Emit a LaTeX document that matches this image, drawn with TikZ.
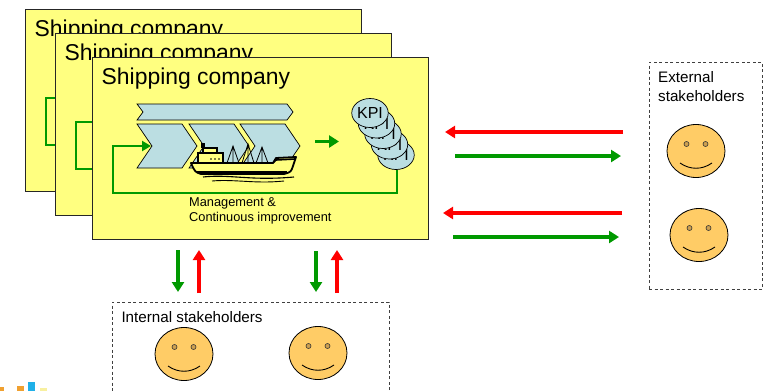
\documentclass[tikz,border=0pt]{standalone}
\usepackage{fontspec}
\setmainfont{Liberation Sans}
\usetikzlibrary{arrows.meta,shapes.geometric,calc,positioning}

\definecolor{boxyellow}{RGB}{255,255,128}
\definecolor{chevblue}{RGB}{187,222,226}
\definecolor{faceorange}{RGB}{255,204,102}
\definecolor{eyebrown}{RGB}{205,160,80}
\definecolor{loopgreen}{RGB}{0,153,0}
\definecolor{flowred}{RGB}{255,0,0}
\definecolor{logoorange}{RGB}{240,160,48}
\definecolor{logoblue}{RGB}{32,176,232}
\definecolor{logoyellow}{RGB}{248,240,160}

\tikzset{
  companybox/.style={draw=black!85,fill=boxyellow,line width=1pt,minimum width=336pt,minimum height=182pt,inner sep=0pt},
  chevron/.style={draw=black,fill=chevblue,line width=0.7pt,line join=miter},
  kpidisc/.style={ellipse,draw=black,fill=chevblue,line width=0.7pt,minimum width=35pt,minimum height=29pt,inner sep=0pt,font=\fontsize{16}{16}\selectfont},
  face/.style={ellipse,draw=black,fill=faceorange,line width=0.8pt,minimum width=58pt,minimum height=53pt,inner sep=0pt},
  eye/.style={circle,draw=black!80,fill=eyebrown,line width=0.6pt,minimum size=5pt,inner sep=0pt},
  stakebox/.style={draw=black!75,dash pattern=on 3pt off 2.5pt,line width=0.8pt,inner sep=0pt},
  txt/.style={anchor=base west,inner sep=0pt},
  greenarr/.style={draw=loopgreen,line width=3.2pt,-{Triangle[length=10pt,width=12pt]}},
  redarr/.style={draw=flowred,line width=3.2pt,-{Triangle[length=10pt,width=12pt]}},
  feedback/.style={draw=loopgreen,line width=2.6pt},
}

\begin{document}
\begin{tikzpicture}[x=1pt,y=-1pt]
\useasboundingbox (0,0) rectangle (765,391);

% three stacked company sheets, back to front
\foreach \dx/\dy/\i in {-67/-48/1,-37/-24/2,0/0/3}{
\begin{scope}[shift={(\dx,\dy)}]
  \node[companybox] (box\i) at (260,148) {};
  \node[txt,font=\fontsize{22.9}{27}\selectfont] (title\i) at (101.5,84.5) {Shipping company};
  \coordinate (loopstart\i) at (397,170);
  \coordinate (notch\i) at (151,146);
  \draw[feedback] (loopstart\i) |- (113,193) |- ([xshift=-8pt]notch\i);
\end{scope}
}
\draw[feedback,-{Triangle[length=9pt,width=10pt]}] ([xshift=-9pt]notch3) -- (notch3);

% process bar and steps
\draw[chevron] (137,104) -- (287,104) -- (293,112) -- (287,120) -- (137,120) -- (143,112) -- cycle;
\foreach \x in {137,189,240}
  \draw[chevron] (\x,124) -- ++(45,0) -- ++(15,22) -- ++(-15,22) -- ++(-45,0) -- ++(15,-22) -- cycle;

% ship
\draw[line width=1.8pt,fill=boxyellow,line join=round] (191,163) -- (273,163) -- (276,158) -- (296,157) -- (293,166) .. controls (291,172) .. (284,174) -- (201,174) .. controls (195,172) .. (191,163) -- cycle;
\draw[line width=2.4pt] (197,172) -- (287,172);
\draw[line width=1.2pt,fill=boxyellow] (198,153) rectangle (223,163);
\draw[line width=1.2pt,fill=boxyellow] (203,148) rectangle (217,153);
\fill (201,143) rectangle (205,148);
\foreach \x in {211,215,219} \fill (\x,159) circle (0.9pt);
\draw[line width=0.8pt] (227,163) -- (233,146) -- (239,163) (233,146) -- (233,163)
  (242,163) -- (248,144) -- (254,163) (248,144) -- (248,163)
  (256,163) -- (262,147) -- (268,163) (262,147) -- (262,163);
\draw[line width=1.6pt] (273,163) -- (276,160) -- (295,159);
\draw[line width=1.1pt] (203,177) .. controls (230,174) and (250,181) .. (294,177);
\draw[line width=0.9pt] (212,181) .. controls (235,179) and (255,184) .. (284,181);

% KPI stack
\foreach \k in {4,3,2,1,0}
  \node[kpidisc] (kpi\k) at (370+6.5*\k,113+10.5*\k) {KPI};
\coordinate (stepend) at (315,141.5);
\coordinate (kpiin) at (339,141.5);
\draw[greenarr] (stepend) -- (kpiin);

\node[txt,font=\fontsize{12.8}{14.5}\selectfont] (mgmt) at (189,206.5) {Management \&};
\node[txt,font=\fontsize{12.8}{14.5}\selectfont] (cont) at ([yshift=-14.5pt]mgmt.base west) {Continuous improvement};

% stakeholder groups
\node[stakebox,minimum width=277pt,minimum height=108pt] (intbox) at (250.5,356) {};
\node[stakebox,minimum width=113pt,minimum height=227pt] (extbox) at (705.5,175.5) {};
\node[txt,font=\fontsize{15.2}{19}\selectfont] (intlabel) at (121.3,322.7) {Internal stakeholders};
\node[txt,font=\fontsize{15.2}{19}\selectfont] (extlabel1) at (658,82.3) {External};
\node[txt,font=\fontsize{15.2}{19}\selectfont] (extlabel2) at ([yshift=-19.4pt]extlabel1.base west) {stakeholders};

\foreach \n/\x/\y in {in1/184/354,in2/318/353,ex1/696/151,ex2/699/235}{
  \node[face] (\n) at (\x,\y) {};
  \node[eye] (\n-l) at ($(\n)+(-9.5,-7)$) {};
  \node[eye] (\n-r) at ($(\n)+(9.5,-7)$) {};
  \draw[line width=0.9pt] ($(\n)+(-16,12)$) .. controls ($(\n)+(-6,19)$) and ($(\n)+(6,19)$) .. ($(\n)+(16,12)$);
}

% information flows
\coordinate (ext-red1) at (623,132);   \coordinate (co-red1) at (445,132);
\coordinate (co-green1) at (455,156);  \coordinate (ext-green1) at (621,156);
\coordinate (ext-red2) at (622,213);   \coordinate (co-red2) at (443,213);
\coordinate (co-green2) at (453,237);  \coordinate (ext-green2) at (619,237);
\draw[redarr] (ext-red1) -- (co-red1);
\draw[greenarr] (co-green1) -- (ext-green1);
\draw[redarr] (ext-red2) -- (co-red2);
\draw[greenarr] (co-green2) -- (ext-green2);

\coordinate (co-down1) at (178,250);  \coordinate (int-down1) at (178,292);
\coordinate (int-up1) at (199,293);   \coordinate (co-up1) at (199,250);
\coordinate (co-down2) at (316,251);  \coordinate (int-down2) at (316,292);
\coordinate (int-up2) at (337,293);   \coordinate (co-up2) at (337,250);
\draw[greenarr] (co-down1) -- (int-down1);
\draw[redarr] (int-up1) -- (co-up1);
\draw[greenarr] (co-down2) -- (int-down2);
\draw[redarr] (int-up2) -- (co-up2);

% logo corner
\fill[logoorange] (0,387) rectangle (4,391);
\fill[logoorange] (17,386) rectangle (24,391);
\fill[logoblue] (28,382) rectangle (35,391);
\fill[logoyellow] (40,388) rectangle (47,391);
\end{tikzpicture}
\end{document}
